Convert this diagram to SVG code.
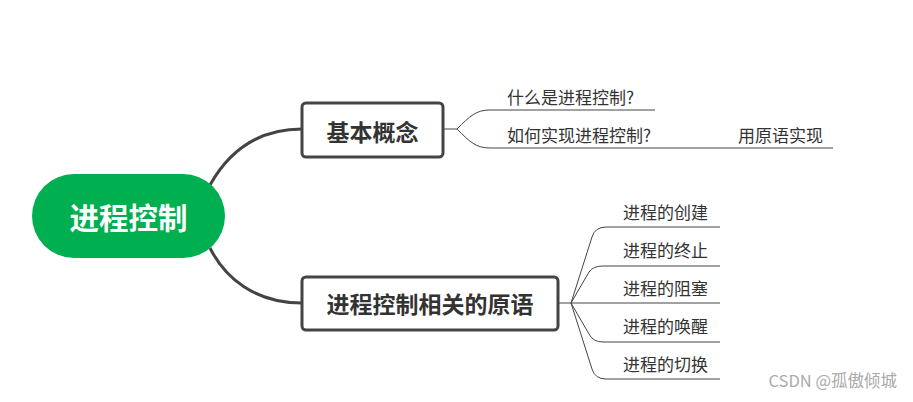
<svg xmlns="http://www.w3.org/2000/svg" width="913" height="402" viewBox="0 0 913 402">
<style>
text{font-family:"Noto Sans CJK SC","Microsoft YaHei",sans-serif;dominant-baseline:central}
.main{fill:none;stroke:#444;stroke-width:3}
.thin{fill:none;stroke:#444;stroke-width:1}
.box{fill:#fff;stroke:#444;stroke-width:3}
.t2{font-size:23px;font-weight:bold;fill:#333;text-anchor:middle}
.t3{font-size:17px;fill:#333}
</style>
<rect width="913" height="402" fill="#fff"/>
<g id="connectors">
<path class="main" d="M210,185 C224,160 250,129 302,129"/>
<path class="main" d="M210,248 C225,278 255,303 302,303"/>
<path class="thin" d="M443,129 H457 C470,116 476,110 490,110 H655"/>
<path class="thin" d="M457,129 C470,142 476,148 490,148 H833"/>
<path class="thin" d="M558,303 H571 L592,237 Q595,227 606,227 H720"/>
<path class="thin" d="M571,303 L589,272 Q593,266 603,266 H720"/>
<path class="thin" d="M571,303 H720"/>
<path class="thin" d="M571,303 L589,334 Q593,342 603,342 H720"/>
<path class="thin" d="M571,303 L592,369 Q595,379 606,379 H720"/>
</g>
<g id="root">
<rect x="32" y="174" width="193" height="84" rx="42" fill="#00b050"/>
<text x="128.5" y="216" font-size="29.5" font-weight="bold" fill="#fff" text-anchor="middle">进程控制</text>
</g>
<g id="n1">
<rect class="box" x="302" y="103" width="141" height="54" rx="4"/>
<text class="t2" x="372.5" y="131">基本概念</text>
</g>
<g id="n2">
<rect class="box" x="302" y="277" width="256" height="53" rx="4"/>
<text class="t2" x="430" y="303">进程控制相关的原语</text>
</g>
<g id="n1a"><text class="t3" x="507" y="96">什么是进程控制?</text></g>
<g id="n1b"><text class="t3" x="507" y="134">如何实现进程控制?</text></g>
<g id="n1b1"><text class="t3" x="738" y="134">用原语实现</text></g>
<g id="n2a"><text class="t3" x="623" y="211.5">进程的创建</text></g>
<g id="n2b"><text class="t3" x="623" y="249.5">进程的终止</text></g>
<g id="n2c"><text class="t3" x="623" y="287.5">进程的阻塞</text></g>
<g id="n2d"><text class="t3" x="623" y="325.5">进程的唤醒</text></g>
<g id="n2e"><text class="t3" x="623" y="363.5">进程的切换</text></g>
<text x="897" y="380" font-size="16.5" fill="#aaa" text-anchor="end">CSDN @孤傲倾城</text>
</svg>
